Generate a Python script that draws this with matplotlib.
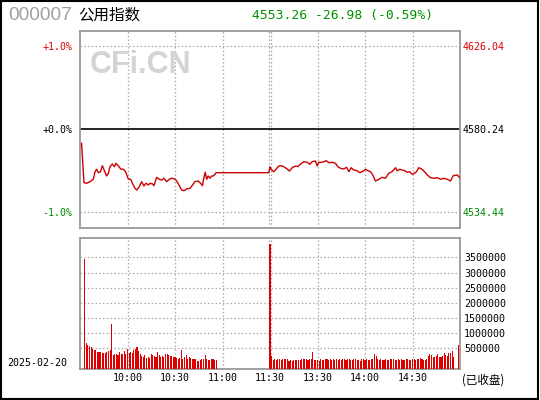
import numpy as np
import matplotlib
matplotlib.use("Agg")
import matplotlib.pyplot as plt
from matplotlib.patches import Rectangle

# ---------------- data ----------------
code = "000007"
name = "公用指数"
date_label = "2025-02-20"
status_label = "(已收盘)"
prev_close = 4580.24
last_price = 4553.26
change = -26.98
change_pct = -0.59

# minutes after 09:30 (11:30 == 120 == 13:00, 15:00 == 240)
price_t_am = [1.0, 2.5, 4.2, 6.3, 8.4, 9.5, 10.5, 11.6, 13.0, 14.1, 15.2, 16.8, 17.9, 18.9,
              20.4, 21.7, 22.7, 24.2, 25.7, 27.4, 28.8, 30.5, 32.0, 33.3, 34.7, 35.8, 37.5,
              38.9, 40.4, 41.7, 43.2, 44.2, 45.9, 46.7, 48.4, 50.1, 51.6, 53.0, 54.7, 56.4,
              57.9, 60.0, 61.0, 62.5, 64.2, 65.7, 67.4, 69.5, 71.1, 72.6, 74.7, 76.2, 77.3,
              78.3, 79.1, 80.0, 81.0, 82.1, 83.1, 84.2, 85.3, 85.9, 119.3]
price_v_am = [4572.35, 4550.61, 4550.28, 4551.16, 4552.49, 4556.68, 4558.00, 4556.13, 4556.68,
              4559.99, 4557.62, 4554.31, 4555.79, 4559.44, 4560.93, 4559.44, 4561.31, 4559.99,
              4558.17, 4558.00, 4556.68, 4552.65, 4552.49, 4549.89, 4547.52, 4546.58, 4548.40,
              4551.16, 4548.79, 4550.28, 4549.34, 4550.28, 4549.89, 4548.95, 4553.59, 4552.49,
              4552.10, 4553.04, 4551.16, 4552.49, 4553.04, 4552.65, 4551.55, 4549.34, 4546.58,
              4546.19, 4547.13, 4547.52, 4549.34, 4551.16, 4551.55, 4550.28, 4548.95, 4553.59,
              4556.35, 4552.49, 4554.31, 4553.04, 4554.31, 4554.31, 4555.24, 4556.13, 4556.13]
price_t_pm = [120.0, 120.7, 122.4, 123.9, 125.6, 127.1, 128.7, 130.8, 132.3, 134.0, 136.1,
              137.6, 139.3, 141.4, 143.5, 145.2, 146.6, 148.7, 149.8, 150.8, 152.9, 155.5,
              157.2, 159.3, 161.4, 162.8, 164.5, 166.6, 168.3, 169.8, 171.3, 172.9, 175.0,
              176.7, 178.2, 180.3, 181.8, 183.5, 184.9, 186.6, 188.7, 190.8, 192.9, 195.0,
              197.1, 199.3, 200.3, 202.0, 203.5, 205.1, 206.6, 208.1, 209.8, 211.3, 212.5,
              214.0, 216.1, 218.2, 219.3, 221.4, 223.5, 225.6, 227.7, 229.8, 231.9, 234.0,
              235.7, 238.2, 240.0]
price_v_pm = [4559.44, 4558.00, 4556.68, 4558.17, 4559.82, 4559.99, 4559.44, 4558.17, 4557.06,
              4558.89, 4559.82, 4559.44, 4560.93, 4562.20, 4561.86, 4560.76, 4562.20, 4562.58,
              4559.82, 4561.86, 4561.86, 4562.75, 4561.65, 4561.86, 4561.31, 4559.44, 4558.55,
              4558.17, 4559.11, 4556.68, 4558.89, 4557.62, 4557.23, 4556.13, 4556.68, 4558.00,
              4557.23, 4556.68, 4554.86, 4551.55, 4552.49, 4553.59, 4553.04, 4555.79, 4556.68,
              4558.89, 4557.23, 4558.00, 4557.62, 4557.23, 4556.35, 4556.68, 4555.24, 4555.79,
              4556.68, 4558.89, 4558.00, 4556.13, 4554.86, 4553.37, 4553.04, 4553.37, 4552.49,
              4553.04, 4552.49, 4551.55, 4554.47, 4554.86, 4553.26]

vol_start_am = 3
vol_am = [3440000, 672000, 620000, 594000, 550000, 472000, 460000, 450000, 383000, 383000,
          370000, 361000, 339000, 350000, 394000, 420000, 450000, 1300000, 283000, 300000,
          316000, 283000, 383000, 305000, 330000, 416000, 305000, 483000, 340000, 383000,
          361000, 450000, 480000, 539000, 427000, 300000, 261000, 228000, 294000, 194000,
          230000, 194000, 316000, 272000, 250000, 228000, 383000, 283000, 228000, 240000,
          228000, 316000, 300000, 283000, 250000, 250000, 230000, 205000, 172000, 150000,
          180000, 450000, 139000, 200000, 283000, 150000, 205000, 172000, 160000, 150000,
          150000, 94000, 83000, 117000, 139000, 150000, 283000, 160000, 117000, 117000,
          150000, 150000, 130000, 117000]
vol_start_pm = 120
vol_pm = [3940000, 261000, 117000, 150000, 117000, 139000, 150000, 117000, 150000, 139000,
          150000, 150000, 83000, 117000, 94000, 117000, 117000, 117000, 128000, 117000,
          139000, 150000, 139000, 150000, 117000, 139000, 150000, 383000, 117000, 117000,
          117000, 83000, 139000, 117000, 117000, 139000, 150000, 117000, 139000, 128000,
          139000, 117000, 150000, 128000, 139000, 117000, 139000, 150000, 117000, 139000,
          150000, 128000, 117000, 139000, 150000, 117000, 128000, 94000, 139000, 150000,
          117000, 139000, 128000, 117000, 139000, 150000, 316000, 250000, 150000, 117000,
          139000, 128000, 117000, 139000, 117000, 128000, 150000, 139000, 150000, 117000,
          128000, 139000, 117000, 150000, 128000, 117000, 139000, 139000, 128000, 117000,
          150000, 139000, 128000, 150000, 139000, 172000, 150000, 120000, 130000, 150000,
          250000, 316000, 283000, 228000, 228000, 250000, 316000, 228000, 205000, 250000,
          361000, 283000, 250000, 361000, 339000, 427000, 228000, 0, 0, 616000]

time_ticks = [30, 60, 90, 120, 150, 180, 210]
time_labels = ["10:00", "10:30", "11:00", "11:30", "13:30", "14:00", "14:30"]
vol_ticks = [500000, 1000000, 1500000, 2000000, 2500000, 3000000, 3500000]
pct_ticks = [1.0, 0.0, -1.0]

# ---------------- style ----------------
W, H = 540, 400
RED = "#dd0000"
GREEN = "#008800"
GRID = "#a8a8a8"
SPINE = "#999999"
MONO = "DejaVu Sans Mono"
CJK = ["Noto Sans CJK SC", "DejaVu Sans"]

fig = plt.figure(figsize=(W / 100, H / 100), dpi=100)
fig.patch.set_facecolor("white")


def fx(x):
    return x / W


def fy(y):
    return 1 - y / H


ax = fig.add_axes([fx(80), fy(228), fx(380), (228 - 31) / H])
axv = fig.add_axes([fx(80), fy(369.3), fx(380), (369.3 - 238.3) / H])

# price panel
amp = prev_close * 0.01
ax.plot(price_t_am + price_t_pm, price_v_am + price_v_pm, color="#cc0000", lw=1.0, zorder=3)
ax.set_xlim(0, 240)
ax.set_ylim(prev_close - 1.193 * amp, prev_close + 1.181 * amp)
ax.axhline(prev_close, color="black", lw=1.2, zorder=2)
for p in pct_ticks:
    if p != 0:
        ax.axhline(prev_close * (1 + p / 100), color=GRID, lw=0.9, ls=(0, (1.2, 1.8)), zorder=1)

for a in (ax, axv):
    for t in time_ticks:
        if t == 120:
            a.axvline(t - 0.7, color=GRID, lw=0.9, ls=(0, (1.2, 1.8)), zorder=1)
            a.axvline(t + 0.8, color=GRID, lw=0.9, ls=(0, (1.2, 1.8)), zorder=1)
        else:
            a.axvline(t, color=GRID, lw=0.9, ls=(0, (1.2, 1.8)), zorder=1)
    for s in a.spines.values():
        s.set_color(SPINE)
        s.set_linewidth(1.3)

ax.set_xticks([])
ax.set_yticks([prev_close * (1 + p / 100) for p in pct_ticks])
ax.set_yticklabels(["%+.1f%%" % p for p in pct_ticks], fontfamily=MONO, fontsize=7.2)
ax.tick_params(axis="y", length=0, pad=5.5)
for lab, p in zip(ax.get_yticklabels(), pct_ticks):
    lab.set_color(RED if p > 0 else (GREEN if p < 0 else "black"))

axr = ax.twinx()
axr.set_ylim(ax.get_ylim())
axr.set_yticks([prev_close * (1 + p / 100) for p in pct_ticks])
axr.set_yticklabels(["%.2f" % (prev_close * (1 + p / 100)) for p in pct_ticks],
                    fontfamily=MONO, fontsize=7.2)
axr.tick_params(axis="y", length=0, pad=1.5)
for lab, p in zip(axr.get_yticklabels(), pct_ticks):
    lab.set_color(RED if p > 0 else (GREEN if p < 0 else "black"))
for s in axr.spines.values():
    s.set_visible(False)

# volume panel
vlo, vhi = -190000, 4130000
axv.set_xlim(0, 240)
axv.set_ylim(vlo, vhi)
vt = np.concatenate([np.arange(len(vol_am)) + vol_start_am, np.arange(len(vol_pm)) + vol_start_pm])
vv = np.array(vol_am + vol_pm, dtype=float)
m = vv > 0
axv.bar(vt[m], vv[m] - vlo, bottom=vlo, width=0.7, color=RED, linewidth=0, zorder=3)
for v in vol_ticks:
    axv.axhline(v, color=GRID, lw=0.9, ls=(0, (1.2, 1.8)), zorder=1)
axv.set_xticks(time_ticks)
axv.set_xticklabels(time_labels, fontfamily=MONO, fontsize=7.2)
axv.tick_params(axis="x", length=0, pad=2.5)
axv.yaxis.tick_right()
axv.set_yticks(vol_ticks)
axv.set_yticklabels([str(v) for v in vol_ticks], fontfamily=MONO, fontsize=7.2)
axv.tick_params(axis="y", length=0, pad=3)

# header texts
fig.text(fx(8), fy(16), code, fontfamily="Liberation Sans", fontsize=13.8, color="#a0a0a0",
         va="center", ha="left")
fig.text(fx(78), fy(15), name, fontfamily=CJK, fontsize=11.2, color="black",
         va="center", ha="left")
fig.text(fx(252), fy(15), "%.2f %.2f (%.2f%%)" % (last_price, change, change_pct),
         fontfamily=MONO, fontsize=9.4, color="#009000", va="center", ha="left")
fig.text(fx(90), fy(65), "CFi.CN", fontfamily="Liberation Sans", fontweight="bold",
         fontsize=22, color="#d4d4d4", va="center", ha="left", zorder=0)
fig.text(fx(67), fy(363.5), date_label, fontfamily=MONO, fontsize=7.2, color="black",
         va="center", ha="right")
fig.text(fx(462), fy(380), status_label, fontfamily=CJK, fontsize=8.3, color="black",
         va="center", ha="left")

# outer frame
fig.patches.append(Rectangle((fx(0.8), fy(398.5)), fx(537), (398.5 - 0.5) / H,
                             transform=fig.transFigure, fill=False, edgecolor="black",
                             linewidth=1.5))

fig.savefig("out.png", dpi=100, facecolor="white")
